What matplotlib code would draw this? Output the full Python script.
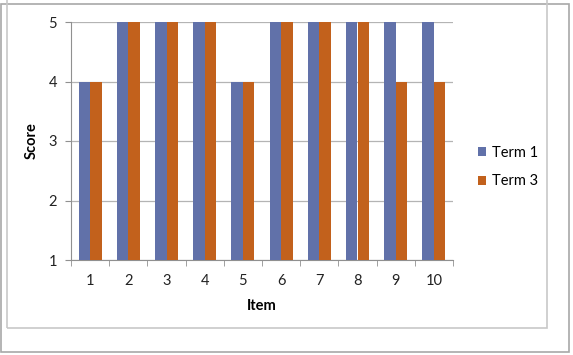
import numpy as np
import matplotlib.pyplot as plt
from matplotlib.patches import Rectangle

# data
items = ['1', '2', '3', '4', '5', '6', '7', '8', '9', '10']
term1 = [4, 5, 5, 5, 4, 5, 5, 5, 5, 5]
term3 = [4, 5, 5, 5, 4, 5, 5, 5, 4, 4]
series_names = ['Term 1', 'Term 3']

W, H = 573, 355
plt.rcParams['font.family'] = ['Lato', 'DejaVu Sans']

fig = plt.figure(figsize=(W / 100, H / 100), dpi=100)


def px(x0, y0, x1, y1):
    # pixel box (top-left origin) -> figure fraction rect
    return [x0 / W, 1 - y1 / H, (x1 - x0) / W, (y1 - y0) / H]


# outer frame and inner chart box
for (x0, y0, x1, y1), col in [((1, 4, 569, 352), '#a8a8a8'),
                              ((7, -5, 547, 328), '#c8c8c8')]:
    fig.patches.append(Rectangle((x0 / W, 1 - y1 / H), (x1 - x0) / W, (y1 - y0) / H,
                                 transform=fig.transFigure, fill=False,
                                 edgecolor=col, linewidth=1.2))

ax = fig.add_axes(px(71, 22, 453, 260))

x = np.arange(len(items))
w = 0.3
ax.bar(x - w / 2, term1, w, bottom=0, color='#6171a9', label=series_names[0], zorder=3)
ax.bar(x + w / 2, term3, w, bottom=0, color='#c2611c', label=series_names[1], zorder=3)

ax.set_xlim(-0.5, len(items) - 0.5)
ax.set_ylim(1, 5)
ax.set_yticks([1, 2, 3, 4, 5])
ax.set_xticks(x)
ax.set_xticklabels(items)
ax.set_xticks(np.arange(-0.5, len(items), 1), minor=True)
ax.tick_params(axis='x', which='major', length=0, pad=10, labelsize=10.5, colors='#222222')
ax.tick_params(axis='x', which='minor', length=4, color='#909090')
ax.tick_params(axis='y', length=4, color='#909090', pad=6, labelsize=10.5, labelcolor='#222222')

ax.grid(axis='y', color='#b4b4b4', linewidth=0.9, zorder=0)
for s in ['top', 'right']:
    ax.spines[s].set_visible(False)
for s in ['left', 'bottom']:
    ax.spines[s].set_color('#909090')

ax.set_xlabel('Item', fontsize=10.5, fontweight='bold', labelpad=8)
ax.set_ylabel('Score', fontsize=10.5, fontweight='bold', labelpad=7)

ax.legend(loc='center left', bbox_to_anchor=(1.03, 0.39), frameon=False,
          fontsize=10.5, handlelength=0.6, handleheight=0.6, labelspacing=1.0,
          handletextpad=0.4)

fig.savefig('out.png', dpi=100)
